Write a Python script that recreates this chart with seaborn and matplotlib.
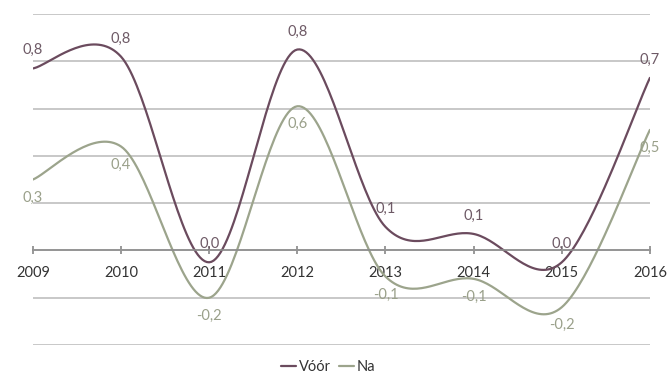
import numpy as np
import pandas as pd
import matplotlib
matplotlib.use("Agg")
import matplotlib.pyplot as plt
import seaborn as sns

# values
years = [2009, 2010, 2011, 2012, 2013, 2014, 2015, 2016]
voor = [0.77, 0.82, -0.05, 0.85, 0.10, 0.07, -0.05, 0.73]
na = [0.30, 0.44, -0.20, 0.61, -0.11, -0.12, -0.24, 0.51]
voor_labels = ["0,8", "0,8", "0,0", "0,8", "0,1", "0,1", "0,0", "0,7"]
na_labels = ["0,3", "0,4", "-0,2", "0,6", "-0,1", "-0,1", "-0,2", "0,5"]

voor_color = "#6b4b5e"
na_color = "#9ca48c"


# smooth line drawing like the spreadsheet "smoothed line" option
def smooth(xs, ys, n=40):
    xs = np.asarray(xs, float)
    ys = np.asarray(ys, float)
    px = np.concatenate([[xs[0]], xs, [xs[-1]]])
    py = np.concatenate([[ys[0]], ys, [ys[-1]]])
    out_x, out_y = [], []
    for i in range(1, len(px) - 2):
        t = np.linspace(0, 1, n)
        p0, p1, p2, p3 = py[i - 1], py[i], py[i + 1], py[i + 2]
        q0, q1, q2, q3 = px[i - 1], px[i], px[i + 1], px[i + 2]
        c1y = p1 + (p2 - p0) / 6
        c2y = p2 - (p3 - p1) / 6
        c1x = q1 + (q2 - q0) / 6
        c2x = q2 - (q3 - q1) / 6
        b0 = (1 - t) ** 3
        b1 = 3 * (1 - t) ** 2 * t
        b2 = 3 * (1 - t) * t ** 2
        b3 = t ** 3
        out_x.extend(b0 * q1 + b1 * c1x + b2 * c2x + b3 * q2)
        out_y.extend(b0 * p1 + b1 * c1y + b2 * c2y + b3 * p2)
    return np.array(out_x), np.array(out_y)


sns.set_theme(style="white")
plt.rcParams["font.family"] = ["Lato", "DejaVu Sans"]

fig = plt.figure(figsize=(6.7, 3.8), dpi=100)
ax = fig.add_axes([0.049, 0.092, 0.921, 0.871])

frames = []
for name, vals in [("Vóór", voor), ("Na", na)]:
    sx, sy = smooth(years, vals)
    frames.append(pd.DataFrame({"x": sx, "y": sy, "serie": name}))
df = pd.concat(frames)

sns.lineplot(data=df, x="x", y="y", hue="serie", sort=False,
             palette={"Vóór": voor_color, "Na": na_color},
             linewidth=1.6, ax=ax, legend=False)

ax.set_xlim(2009, 2016)
ax.set_ylim(-0.4, 1.0)
ax.set_yticks(np.arange(-0.4, 1.01, 0.2))
ax.yaxis.grid(True, color="#c8c8c8", linewidth=1.4)
ax.set_axisbelow(True)
ax.tick_params(axis="y", left=False, labelleft=False)
for s in ["left", "right", "top"]:
    ax.spines[s].set_visible(False)
ax.spines["bottom"].set_position(("data", 0))
ax.spines["bottom"].set_color("#8c8c8c")
ax.spines["bottom"].set_linewidth(1.2)
ax.set_xticks(years)
ax.set_xticklabels([str(y) for y in years])
ax.tick_params(axis="x", direction="inout", length=6, color="#8c8c8c",
               labelsize=10.5, labelcolor="#333333", pad=8, bottom=True)
ax.set_xlabel("")
ax.set_ylabel("")

for x, v, lab in zip(years, voor, voor_labels):
    ax.annotate(lab, (x, v), xytext=(0, 8), textcoords="offset points",
                ha="center", va="bottom", fontsize=10.5, color="#6e5a66")
for x, v, lab in zip(years, na, na_labels):
    ax.annotate(lab, (x, v), xytext=(0, -8), textcoords="offset points",
                ha="center", va="top", fontsize=10.5, color="#9aa08a")

handles = [plt.Line2D([], [], color=voor_color, linewidth=1.6),
           plt.Line2D([], [], color=na_color, linewidth=1.6)]
fig.legend(handles, ["Vóór", "Na"], loc="center", bbox_to_anchor=(0.49, 0.035),
           ncol=2, frameon=False, fontsize=10.5, handlelength=1.0,
           handletextpad=0.2, columnspacing=0.6, labelcolor="#333333")

fig.savefig("out.png", dpi=100)
